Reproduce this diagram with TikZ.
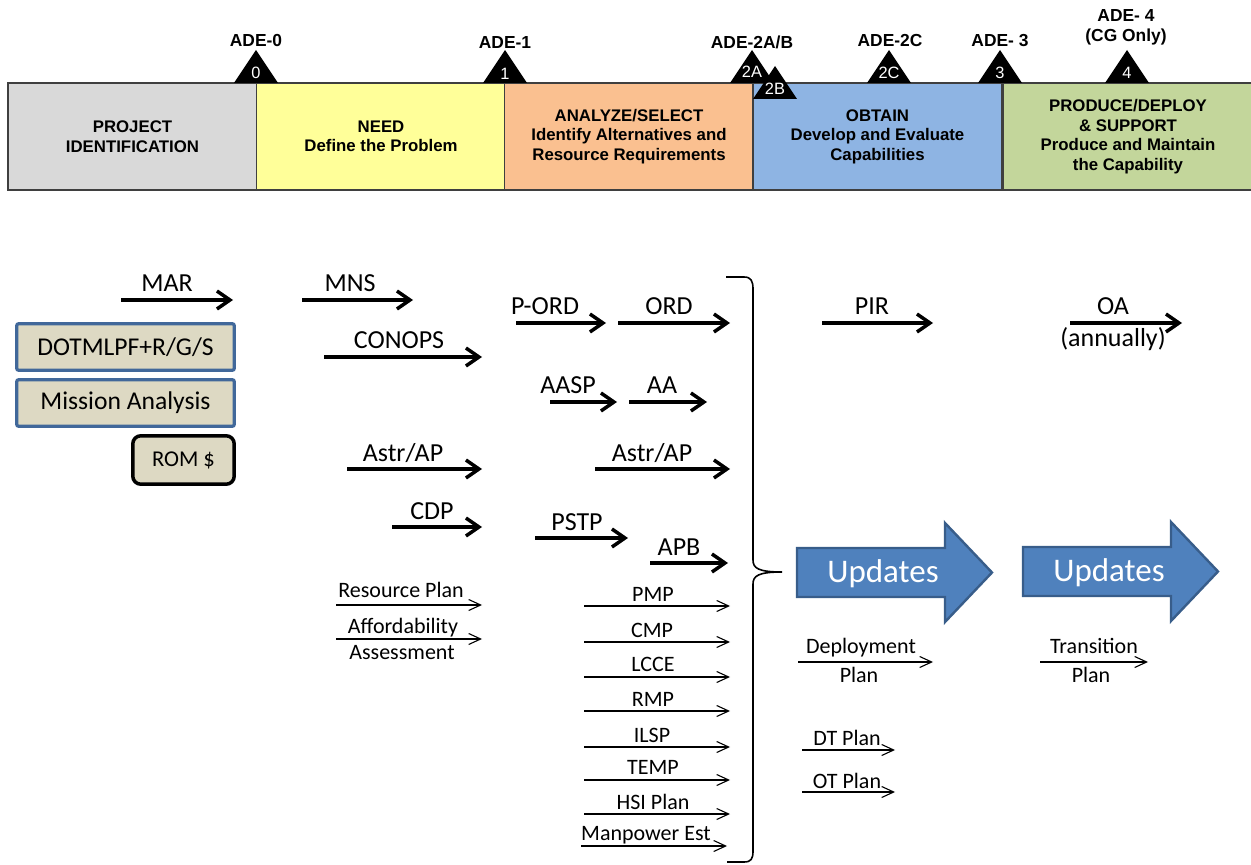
\documentclass[tikz,border=0pt]{standalone}
\usepackage{fontspec}
\setmainfont{Carlito}
\newfontfamily\arialfont{Liberation Sans}
\usetikzlibrary{arrows.meta,calc}
\definecolor{GrayPh}{HTML}{D9D9D9}
\definecolor{YelPh}{HTML}{FFFF99}
\definecolor{OrgPh}{HTML}{FAC090}
\definecolor{BluPh}{HTML}{8EB4E3}
\definecolor{GrnPh}{HTML}{C3D69B}
\definecolor{BarEdge}{HTML}{3F3F3F}
\definecolor{BoxTan}{HTML}{DDD9C3}
\definecolor{BoxEdge}{HTML}{41689A}
\definecolor{UpdFill}{HTML}{4F81BD}
\definecolor{UpdEdge}{HTML}{385D8A}

\begin{document}
\begin{tikzpicture}[x=0.5pt,y=-0.5pt,
  phase/.style={draw=BarEdge,line width=0.75pt,minimum width=124.5pt,minimum height=53.5pt,
    inner sep=1pt,align=center,font=\arialfont\bfseries\fontsize{8.4}{9.8}\selectfont},
  adelbl/.style={anchor=base,inner sep=0pt,font=\arialfont\bfseries\fontsize{8.7}{10}\selectfont},
  adenum/.style={anchor=base,inner sep=0pt,text=white,font=\arialfont\fontsize{8.2}{9}\selectfont},
  tanbox/.style={draw=BoxEdge,fill=BoxTan,line width=1.6pt,rounded corners=1pt,
    minimum width=108.8pt,minimum height=23.3pt,inner sep=0pt,font=\fontsize{12.8}{14}\selectfont},
  rombox/.style={draw=black,fill=BoxTan,line width=1.75pt,rounded corners=4pt,
    minimum width=50.7pt,minimum height=24.2pt,inner sep=0pt,font=\fontsize{11.3}{13}\selectfont},
  bigarr/.style={line width=1.75pt,-{Straight Barb[length=6.5pt,width=9pt]}},
  thinarr/.style={line width=0.55pt,-{Straight Barb[length=6pt,width=5.5pt]}},
  biglbl/.style={anchor=base,inner sep=0pt,font=\fontsize{13}{15}\selectfont},
  smlbl/.style={anchor=base,inner sep=0pt,font=\fontsize{11}{13}\selectfont},
  upd/.style={draw=UpdEdge,fill=UpdFill,line width=1.2pt},
  updtxt/.style={anchor=base,inner sep=0pt,text=white,font=\fontsize{16.5}{18}\selectfont}]

\useasboundingbox (0,0) rectangle (1251,865);

\foreach \nm/\x/\clr/\txt in {proj/132.5/GrayPh/{PROJECT\\IDENTIFICATION},
    need/381/YelPh/{NEED\\Define the Problem},
    anal/629/OrgPh/{ANALYZE/SELECT\\Identify Alternatives and\\Resource Requirements},
    obt/877.5/BluPh/{OBTAIN\\Develop and Evaluate\\Capabilities},
    prod/1128/GrnPh/{PRODUCE/DEPLOY\\\& SUPPORT\\Produce and Maintain\\the Capability}}
  \node[phase,fill=\clr] (\nm) at (\x,136.5) {\txt};

\foreach \nm/\x/\y/\ly in {0/256/50/79, 1/505/50/80, 2A/752/50/78, 2B/775/66/95,
    2C/889/50/79, 3/1000/50/79, 4/1127/50/79}{
  \fill[black] (\x-22,\y+33) -- (\x,\y) -- (\x+22,\y+33) -- cycle;
  \node[adenum] (n\nm) at (\x,\ly) {\nm};
}

\node[adelbl] (ade0) at (256,47) {ADE-0};
\node[adelbl] (ade1) at (505,48.5) {ADE-1};
\node[adelbl] (ade2ab) at (752,48.5) {ADE-2A/B};
\node[adelbl] (ade2c) at (890,47) {ADE-2C};
\node[adelbl] (ade3) at (1000,47) {ADE- 3};
\node[adelbl] (ade4) at (1126,21.5) {ADE- 4};
\node[adelbl] (cgonly) at (1126,42) {(CG Only)};

\node[tanbox] (dotm) at (125.5,347) {DOTMLPF+R/G/S};
\node[tanbox] (mission) at (125.5,403) {Mission Analysis};
\node[rombox] (rom) at (183.5,460) {ROM \$};

\foreach \nm/\xa/\xb/\y/\lx/\txt in {mar/121/233/300/167/MAR, mns/302/413/300/350/MNS,
    conops/324/482/357/399/CONOPS, pord/516/606/323/545/P-ORD, ord/618/730/323/669/ORD,
    aasp/550/617/402/568/AASP, aa/629/707/402/662/AA, astrA/347/482/469/403/{Astr/AP},
    astrB/595/730/469/652/{Astr/AP}, cdp/392/482/527/432/CDP, pstp/535/628/538/577/PSTP,
    apb/650/728/563/679/APB, pir/822/933/323/872/PIR, oa/1070/1182/323/1113/OA}{
  \coordinate (\nm-s) at (\xa,\y);
  \coordinate (\nm-e) at (\xb,\y);
  \draw[bigarr] (\nm-s) -- (\nm-e);
  \node[biglbl] (\nm) at (\lx,\y-8) {\txt};
}
\node[biglbl] (annually) at (1113,347) {(annually)};

\foreach \nm/\xa/\xb/\y/\lx/\ly/\txt in {res/336/482/605/401/597/{Resource Plan},
    aff/336/482/639/403/633/Affordability, pmp/584/730/606/653/601/PMP,
    cmp/584/730/642/652/637/CMP, lcce/584/730/677/653/671/LCCE, rmp/584/730/711/653/706/RMP,
    ilsp/584/730/747/652/742/ILSP, temp/584/730/780/653/774/TEMP,
    hsi/584/730/814/653/809/{HSI Plan}, man/581/727/846/646/840/{Manpower Est},
    dep/798/933/662/861/653/Deployment, trn/1040/1148/662/1094/653/Transition,
    dt/802/895/750/847/745/{DT Plan}, ot/802/895/792/847/788/{OT Plan}}{
  \coordinate (\nm-s) at (\xa,\y);
  \coordinate (\nm-e) at (\xb,\y);
  \draw[thinarr] (\nm-s) -- (\nm-e);
  \node[smlbl] (\nm) at (\lx,\ly) {\txt};
}
\node[smlbl] (assess) at (402,659) {Assessment};
\node[smlbl] (depplan) at (859,682) {Plan};
\node[smlbl] (trnplan) at (1091,682) {Plan};

\draw[line width=0.8pt] (726,277) -- (744,277) .. controls (751,277) and (753,281) .. (753,289)
  -- (753,560) .. controls (753,568) and (758,572) .. (782,572)
  .. controls (758,572) and (753,576) .. (753,584)
  -- (753,851) .. controls (753,859) and (751,862) .. (744,862) -- (727,862);

\foreach \nm/\dx/\dy in {updA/0/0, updB/226/-1}{
  \draw[upd] (797+\dx,548+\dy) -- (945+\dx,548+\dy) -- (945+\dx,523+\dy) -- (992+\dx,572.5+\dy)
    -- (945+\dx,622+\dy) -- (945+\dx,597+\dy) -- (797+\dx,597+\dy) -- cycle;
  \node[updtxt] (\nm) at (883+\dx,582+\dy) {Updates};
}

\end{tikzpicture}
\end{document}
